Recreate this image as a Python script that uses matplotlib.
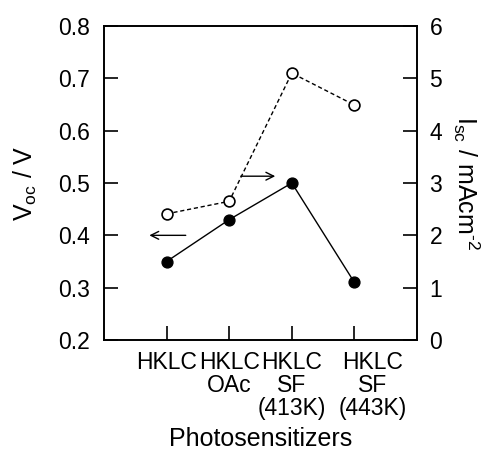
import matplotlib
matplotlib.use("Agg")
import matplotlib.pyplot as plt
import matplotlib.transforms as mtransforms

plt.rcParams['font.family'] = ['Liberation Sans', 'DejaVu Sans']

categories = ["HKLC", "HKLC\nOAc", "HKLC\nSF\n(413K)", "HKLC\nSF\n(443K)"]
positions = [1, 2, 3, 4]
voc = [0.35, 0.43, 0.50, 0.31]
isc = [2.41, 2.65, 5.10, 4.49]

fig = plt.figure(figsize=(4.86, 4.51), dpi=100)
ax = fig.add_axes([104/486, 1-340/451, (417-104)/486, (340-26)/451])
ax2 = ax.twinx()

ax.plot(positions, voc, '-', color='black', lw=1.0, marker='o', ms=7.8,
        mfc='black', mec='black', zorder=3)
ax2.plot(positions, isc, '--', color='black', lw=1.0, dashes=(3, 2), marker='o', ms=7.8,
         mfc='white', mec='black', mew=1.2, zorder=3)

ax.set_xlim(0, 5)
ax.set_ylim(0.2, 0.8)
ax2.set_ylim(0, 6)
ax.set_xticks(positions)
ax.set_xticklabels(categories, fontsize=16.5, linespacing=1.0)
ax.set_yticks([0.2, 0.3, 0.4, 0.5, 0.6, 0.7, 0.8])
ax.set_yticklabels(["0.2", "0.3", "0.4", "0.5", "0.6", "0.7", "0.8"], fontsize=16.5)
ax2.set_yticks([0, 1, 2, 3, 4, 5, 6])
ax2.set_yticklabels([str(v) for v in range(7)], fontsize=16.5)

ax.tick_params(axis='y', direction='in', length=10, width=1.2, pad=10)
ax.tick_params(axis='x', direction='in', length=10, width=1.2, pad=8)
ax2.tick_params(axis='y', direction='in', length=10, width=1.2, pad=9)
for a in (ax, ax2):
    for s in a.spines.values():
        s.set_linewidth(1.2)

# shift last category label to the right as in the reference
lbls = ax.get_xticklabels()
lbls[3].set_transform(lbls[3].get_transform() +
                      mtransforms.ScaledTranslation(18/100, 0, fig.dpi_scale_trans))

ax.set_xlabel("Photosensitizers", fontsize=18, labelpad=5)
ax.set_ylabel("V$_{\\mathregular{oc}}$ / V", fontsize=18, labelpad=14)
ax2.set_ylabel("I$_{\\mathregular{sc}}$ / mAcm$^{\\mathregular{\u2010}\\mathregular{2}}$", fontsize=18,
               rotation=270, labelpad=28)

# arrows
ax.annotate("", xy=(0.68, 0.40), xytext=(1.35, 0.40),
            arrowprops=dict(arrowstyle='->', color='black', lw=1.0, mutation_scale=14))
ax2.annotate("", xy=(2.78, 3.13), xytext=(2.14, 3.13),
             arrowprops=dict(arrowstyle='->', color='black', lw=1.0, mutation_scale=14))

fig.savefig("out.png", dpi=100)
